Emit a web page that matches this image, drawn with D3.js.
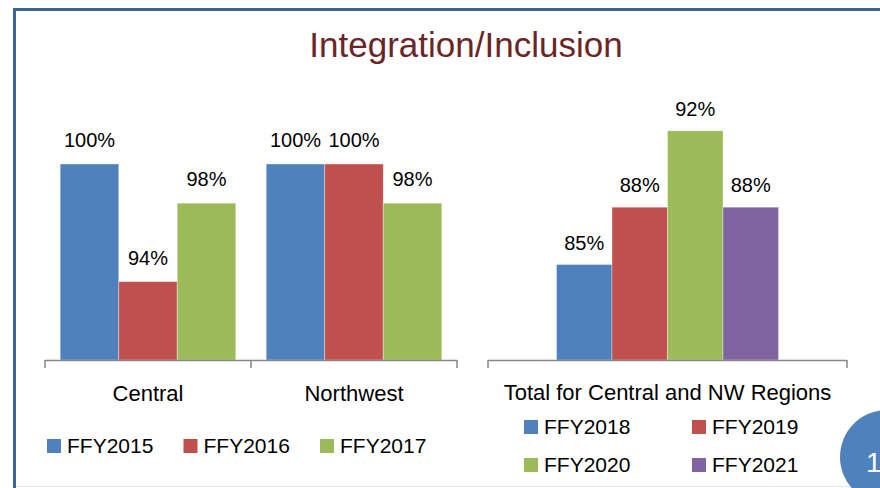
<!DOCTYPE html>
<html>
<head>
<meta charset="utf-8">
<script src="https://cdn.jsdelivr.net/npm/d3@7"></script>
<style>
  body { margin: 0; background: #fff; }
  text { font-family: "Liberation Sans", Arial, sans-serif; fill: #000; }
</style>
</head>
<body>
<div id="chart-area"></div>
<script>
const W = 880, H = 488;

// data
const regions = ["Central", "Northwest"];
const regionYears = ["FFY2015", "FFY2016", "FFY2017"];
const regionValues = [
  [100, 94, 98],   // Central
  [100, 100, 98]   // Northwest
];
const totalCategory = ["Total for Central and NW Regions"];
const totalYears = ["FFY2018", "FFY2019", "FFY2020", "FFY2021"];
const totalValues = [85, 88, 92, 88];

const colors = ["#4F81BD", "#C0504D", "#9BBB59", "#8064A2"];

const svg = d3.select("#chart-area")
  .append("svg")
  .attr("width", W)
  .attr("height", H);

// slide frame
svg.append("path")
  .attr("d", `M14.5,${H} V9.5 H${W}`)
  .attr("fill", "none")
  .attr("stroke", "#3F6494")
  .attr("stroke-width", 3);
svg.append("line")
  .attr("x1", 16).attr("x2", W).attr("y1", 486.5).attr("y2", 486.5)
  .attr("stroke", "#E6E6E6").attr("stroke-width", 1);

svg.append("text")
  .attr("x", 466).attr("y", 57)
  .attr("text-anchor", "middle")
  .attr("font-size", "35px")
  .style("fill", "#6B2527")
  .text("Integration/Inclusion");

const baseY = 360;

// ---------- left chart: by region ----------
const x0 = d3.scaleBand().domain(regions).range([45, 457]);
const x1 = d3.scaleBand().domain(regionYears)
  .range([0, x0.bandwidth()]).paddingOuter(0.26);
const yL = d3.scaleLinear().domain([90, 100]).range([baseY, 164]);

const left = svg.append("g");
const groups = left.selectAll("g.region")
  .data(regions)
  .join("g")
  .attr("class", "region")
  .attr("transform", d => `translate(${x0(d)},0)`);

groups.selectAll("rect")
  .data((d, i) => regionYears.map((yr, j) => ({ yr, v: regionValues[i][j], j })))
  .join("rect")
  .attr("x", d => x1(d.yr))
  .attr("width", x1.bandwidth())
  .attr("y", d => yL(d.v))
  .attr("height", d => baseY - yL(d.v))
  .attr("fill", d => colors[d.j])
  .attr("stroke", "rgba(255,255,255,0.35)")
  .attr("stroke-width", 1);

groups.selectAll("text.val")
  .data((d, i) => regionYears.map((yr, j) => ({ yr, v: regionValues[i][j] })))
  .join("text")
  .attr("class", "val")
  .attr("x", d => x1(d.yr) + x1.bandwidth() / 2)
  .attr("y", d => yL(d.v) - 17)
  .attr("text-anchor", "middle")
  .attr("font-size", "20px")
  .text(d => d.v + "%");

// category axis
const leftTicks = regions.map(r => x0(r)).concat([x0.range()[1]]);
left.append("line")
  .attr("x1", x0.range()[0]).attr("x2", x0.range()[1])
  .attr("y1", baseY + 0.5).attr("y2", baseY + 0.5)
  .attr("stroke", "#868686").attr("stroke-width", 1.5);
left.selectAll("line.tick")
  .data(leftTicks)
  .join("line")
  .attr("class", "tick")
  .attr("x1", d => d).attr("x2", d => d)
  .attr("y1", baseY).attr("y2", baseY + 8)
  .attr("stroke", "#868686").attr("stroke-width", 1.5);
left.selectAll("text.cat")
  .data(regions)
  .join("text")
  .attr("class", "cat")
  .attr("x", d => x0(d) + x0.bandwidth() / 2)
  .attr("y", 401)
  .attr("text-anchor", "middle")
  .attr("font-size", "22px")
  .text(d => d);

// legend
const legL = left.selectAll("g.leg")
  .data(regionYears)
  .join("g")
  .attr("class", "leg")
  .attr("transform", (d, i) => `translate(${47 + i * 136.5},439)`);
legL.append("rect").attr("width", 14).attr("height", 14)
  .attr("fill", (d, i) => colors[i]);
legL.append("text").attr("x", 20).attr("y", 14)
  .attr("font-size", "21px").text(d => d);

// ---------- right chart: total ----------
const xr0 = d3.scaleBand().domain(totalCategory).range([488, 847]);
const xr1 = d3.scaleBand().domain(totalYears)
  .range([0, xr0.bandwidth()]).paddingOuter(1.234);
const yR = d3.scaleLinear().domain([80, 100]).range([baseY, -22]);

const right = svg.append("g")
  .attr("transform", `translate(${xr0(totalCategory[0])},0)`);

right.selectAll("rect")
  .data(totalYears.map((yr, j) => ({ yr, v: totalValues[j], j })))
  .join("rect")
  .attr("x", d => xr1(d.yr))
  .attr("width", xr1.bandwidth())
  .attr("y", d => yR(d.v))
  .attr("height", d => baseY - yR(d.v))
  .attr("fill", d => colors[d.j])
  .attr("stroke", "rgba(255,255,255,0.35)")
  .attr("stroke-width", 1);

right.selectAll("text.val")
  .data(totalYears.map((yr, j) => ({ yr, v: totalValues[j] })))
  .join("text")
  .attr("class", "val")
  .attr("x", d => xr1(d.yr) + xr1.bandwidth() / 2)
  .attr("y", d => yR(d.v) - 15)
  .attr("text-anchor", "middle")
  .attr("font-size", "20px")
  .text(d => d.v + "%");

right.append("line")
  .attr("x1", 0).attr("x2", xr0.bandwidth())
  .attr("y1", baseY + 0.5).attr("y2", baseY + 0.5)
  .attr("stroke", "#868686").attr("stroke-width", 1.5);
right.selectAll("line.tick")
  .data([0, xr0.bandwidth()])
  .join("line")
  .attr("class", "tick")
  .attr("x1", d => d).attr("x2", d => d)
  .attr("y1", baseY).attr("y2", baseY + 8)
  .attr("stroke", "#868686").attr("stroke-width", 1.5);
right.append("text")
  .attr("x", xr0.bandwidth() / 2)
  .attr("y", 400)
  .attr("text-anchor", "middle")
  .attr("font-size", "22px")
  .text(totalCategory[0]);

const legR = svg.selectAll("g.legr")
  .data(totalYears)
  .join("g")
  .attr("class", "legr")
  .attr("transform", (d, i) => `translate(${524 + (i % 2) * 168},${420 + Math.floor(i / 2) * 38})`);
legR.append("rect").attr("width", 14).attr("height", 14)
  .attr("fill", (d, i) => colors[i]);
legR.append("text").attr("x", 20).attr("y", 14)
  .attr("font-size", "21px").text(d => d);

// slide number badge
svg.append("circle")
  .attr("cx", 887).attr("cy", 457).attr("r", 47)
  .attr("fill", "#4F81BD");
svg.append("text")
  .attr("x", 866).attr("y", 472)
  .attr("font-size", "28px")
  .style("fill", "#fff")
  .text("1");
</script>
</body>
</html>
